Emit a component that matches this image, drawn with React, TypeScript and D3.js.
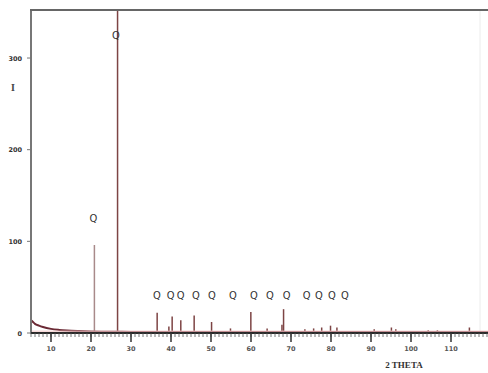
import { useEffect, useRef } from "react";
import * as d3 from "d3";

// XRD pattern (2 theta in degrees, intensity in counts)
const peakTheta = [20.85, 26.64, 36.54, 39.47, 40.29, 42.45, 45.79, 50.14, 54.87, 59.96, 64.03, 67.74, 68.14, 73.47, 75.66, 77.67, 79.88, 81.48, 90.8, 95.1, 96.2, 104.3, 106.6, 114.6];
const peakHeight = [96, 1000, 22, 7, 18, 14, 19, 12, 5, 23, 5, 9, 26, 4, 5, 6, 8, 6, 4, 6, 4, 3, 3, 6];

const bgTheta = [5, 5.5, 6, 7, 8, 10, 12, 14, 17, 20, 25, 30, 40, 60, 80, 100, 120];
const bgValue = [14, 12, 10, 8, 6.5, 4.5, 3.4, 2.7, 2.1, 1.7, 1.4, 1.2, 1, 1, 1, 1, 1];

const labelTheta = [20.6, 26.2, 36.5, 39.9, 42.4, 46.2, 50.2, 55.5, 60.7, 64.7, 68.9, 73.9, 77.0, 80.2, 83.5];
const labelValue = [126, 325, 41, 41, 41, 41, 41, 41, 41, 41, 41, 41, 41, 41, 41];

const xTicks = [10, 20, 30, 40, 50, 60, 70, 80, 90, 100, 110];
const yTicks = [0, 100, 200, 300];

const W = 488;
const H = 373;

export default function App() {
  const ref = useRef<SVGSVGElement>(null);

  useEffect(() => {
    const svg = d3.select(ref.current);
    svg.selectAll("*").remove();

    const x = d3.scaleLinear().domain([5, 120]).range([31, 491]);
    const y = d3.scaleLinear().domain([0, 352.4]).range([333, 10]);
    const top = y.range()[1];

    svg.append("defs").append("clipPath").attr("id", "plot")
      .append("rect").attr("x", 31).attr("y", top).attr("width", W - 31).attr("height", 333 - top);

    // faint right frame edge
    svg.append("line").attr("x1", 480).attr("x2", 480).attr("y1", top).attr("y2", 333)
      .attr("stroke", "#ececec").attr("stroke-width", 1);

    const plot = svg.append("g").attr("clip-path", "url(#plot)");

    // peaks as sticks
    plot.selectAll("line.peak")
      .data(peakTheta)
      .join("line")
      .attr("class", "peak")
      .attr("x1", d => x(d)).attr("x2", d => x(d))
      .attr("y1", y(0))
      .attr("y2", (_, i) => y(peakHeight[i]))
      .attr("stroke", (_, i) => (i === 0 ? "#a88a8a" : "#7d4444"))
      .attr("stroke-width", 1.5);

    // background
    const line = d3.line<number>().x(d => x(d)).y((_, i) => y(bgValue[i])).curve(d3.curveMonotoneX);
    plot.append("path").datum(bgTheta).attr("d", line)
      .attr("fill", "none").attr("stroke", "#6b2a35").attr("stroke-width", 2);
    plot.append("line").attr("x1", 31).attr("x2", W).attr("y1", y(2)).attr("y2", y(2))
      .attr("stroke", "#f2c6c6").attr("stroke-width", 1);

    // frame: left and top
    svg.append("line").attr("x1", 31).attr("x2", 31).attr("y1", top - 1).attr("y2", 334)
      .attr("stroke", "#777").attr("stroke-width", 2);
    svg.append("line").attr("x1", 30).attr("x2", W).attr("y1", top).attr("y2", top)
      .attr("stroke", "#666").attr("stroke-width", 2);

    // x axis
    svg.append("line").attr("x1", 31).attr("x2", W).attr("y1", 333).attr("y2", 333)
      .attr("stroke", "#2a2a2a").attr("stroke-width", 2);
    const minor = d3.range(5, 121, 1);
    svg.append("g").selectAll("line")
      .data(minor)
      .join("line")
      .attr("x1", d => x(d)).attr("x2", d => x(d))
      .attr("y1", 333).attr("y2", 337)
      .attr("stroke", "#555").attr("stroke-width", 0.8);
    svg.append("g").selectAll("line")
      .data(xTicks)
      .join("line")
      .attr("x1", d => x(d)).attr("x2", d => x(d))
      .attr("y1", 333).attr("y2", 342)
      .attr("stroke", "#333").attr("stroke-width", 1.5);
    svg.append("g").attr("font-family", "DejaVu Sans").attr("font-size", 6.5).attr("font-weight", "bold")
      .attr("fill", "#555").attr("text-anchor", "middle")
      .selectAll("text").data(xTicks).join("text")
      .attr("x", d => x(d)).attr("y", 351).text(d => d);

    // y axis
    svg.append("g").selectAll("line").data(yTicks).join("line")
      .attr("x1", 27).attr("x2", 31).attr("y1", d => y(d)).attr("y2", d => y(d))
      .attr("stroke", "#777").attr("stroke-width", 1);
    svg.append("g").attr("font-family", "DejaVu Sans").attr("font-size", 6.5).attr("font-weight", "bold")
      .attr("fill", "#333").attr("text-anchor", "end")
      .selectAll("text").data(yTicks).join("text")
      .attr("x", 22).attr("y", d => y(d) + 2.5).text(d => d);

    // Q labels
    svg.append("g").attr("font-family", "DejaVu Sans Condensed").attr("font-size", 11)
      .attr("fill", "#333").attr("text-anchor", "middle")
      .selectAll("text").data(labelTheta).join("text")
      .attr("x", d => x(d)).attr("y", (_, i) => y(labelValue[i]) + 4).text("Q");

    // axis titles
    svg.append("text").attr("x", 13).attr("y", 91).attr("text-anchor", "middle")
      .attr("font-family", "Liberation Serif").attr("font-size", 10).attr("font-weight", "bold")
      .attr("fill", "#444").text("I");
    svg.append("text").attr("x", 404).attr("y", 368).attr("text-anchor", "middle")
      .attr("font-family", "Liberation Serif").attr("font-size", 9).attr("font-weight", "bold")
      .attr("fill", "#333").text("2 THETA");
  }, []);

  return (
    <svg ref={ref} width={W} height={H}
      style={{ position: "absolute", left: 0, top: 0, background: "#fff" }} />
  );
}
